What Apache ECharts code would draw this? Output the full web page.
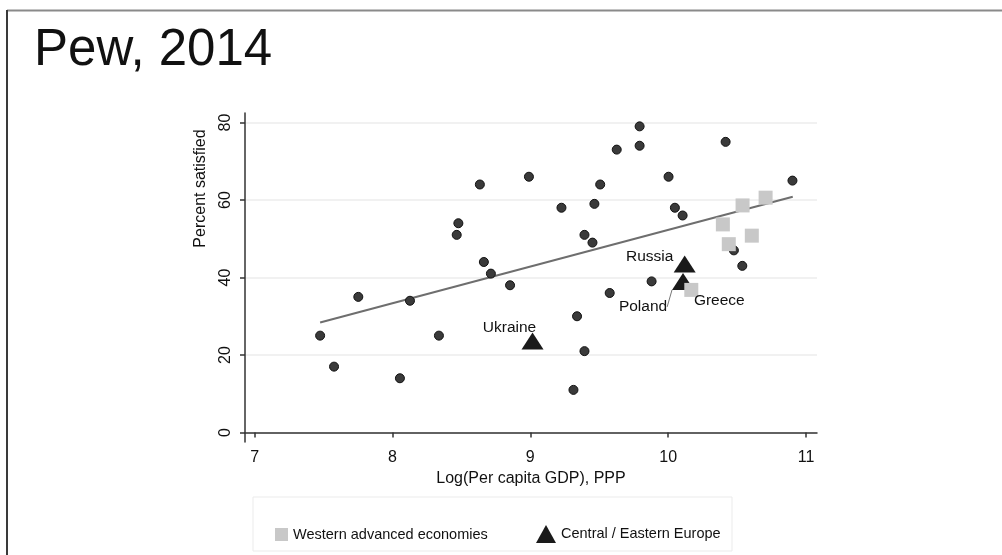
<!DOCTYPE html>
<html>
<head>
<meta charset="utf-8">
<script src="https://cdn.jsdelivr.net/npm/echarts@6/dist/echarts.min.js"></script>
<style>
  html, body { margin: 0; padding: 0; background: #fff; }
  #chart { width: 1002px; height: 555px; }
</style>
</head>
<body>
<div id="chart"></div>
<script>
// Axis ticks
const xTicks = [7, 8, 9, 10, 11];
const yTicks = [0, 20, 40, 60, 80];

// All other surveyed countries: log GDP per capita (PPP) vs percent satisfied
const otherX = [7.475, 7.576, 7.752, 8.127, 8.054, 8.337, 8.478, 8.466, 8.634, 8.663, 8.714,
                8.853, 8.99, 9.226, 9.313, 9.339, 9.393, 9.393, 9.451, 9.507, 9.465, 9.576,
                9.627, 9.793, 9.793, 9.88, 10.003, 10.049, 10.105, 10.417, 10.477, 10.538, 10.902];
const otherY = [25, 17, 35, 34, 14, 25, 54, 51, 64, 44, 41,
                38, 66, 58, 11, 30, 21, 51, 49, 64, 59, 36,
                73, 79, 74, 39, 66, 58, 56, 75, 47, 43, 65];

// Western advanced economies
const westNames = ['Greece', '', '', '', '', ''];
const westX = [10.168, 10.54, 10.707, 10.397, 10.607, 10.44];
const westY = [36.8, 58.6, 60.6, 53.7, 50.8, 48.6];

// Central / Eastern Europe
const ceeNames = ['Ukraine', 'Poland', 'Russia'];
const ceeX = [9.016, 10.108, 10.12];
const ceeY = [23.6, 39, 43.5];

// Linear fit endpoints
const fitX = [7.475, 10.904];
const fitY = [28.4, 60.85];

const FONT = "'Liberation Sans', Arial, Helvetica, sans-serif";

// Label displacement (px) for the annotated countries
const labelShift = {
  Russia: [-35, -7],
  Poland: [-40, 25.5],
  Greece: [28, 11],
  Ukraine: [-23, -13]
};

function points(xs, ys, names) {
  return xs.map((x, i) => {
    const item = { value: [x, ys[i]], name: names ? names[i] : '' };
    if (item.name === 'Poland') {
      item.labelLine = { show: true, lineStyle: { color: '#777', width: 1 } };
    }
    return item;
  });
}

function shiftLabel(params) {
  const s = labelShift[params.text];
  return s ? { dx: s[0], dy: s[1] } : {};
}

const namedLabel = {
  show: true,
  position: 'inside',
  formatter: p => p.name,
  color: '#111',
  fontSize: 15.5,
  fontFamily: FONT
};

const chart = echarts.init(document.getElementById('chart'), null, { renderer: 'canvas' });

chart.setOption({
  animation: false,
  backgroundColor: '#fff',
  title: {
    text: 'Pew, 2014',
    left: 34,
    top: 25,
    padding: 0,
    textStyle: { fontFamily: FONT, fontSize: 51, fontWeight: 'normal', color: '#111' }
  },
  graphic: [
    { type: 'line', shape: { x1: 7, y1: 10.5, x2: 1002, y2: 10.5 }, style: { stroke: '#8a8a8a', lineWidth: 2 } },
    { type: 'line', shape: { x1: 7, y1: 10, x2: 7, y2: 555 }, style: { stroke: '#3a3a3a', lineWidth: 2 } },
    { type: 'rect', shape: { x: 253, y: 497, width: 479, height: 54 }, style: { fill: 'none', stroke: '#ebebeb', lineWidth: 1 } }
  ],
  grid: { left: 245, right: 185, top: 113, bottom: 113 },
  xAxis: {
    type: 'value',
    min: 6.93,
    max: 11.08,
    name: 'Log(Per capita GDP), PPP',
    nameLocation: 'middle',
    nameGap: 27,
    nameTextStyle: { fontFamily: FONT, fontSize: 16, color: '#111' },
    axisLine: { lineStyle: { color: '#333', width: 1.5 } },
    axisTick: { show: true, customValues: xTicks, length: 5, lineStyle: { color: '#333', width: 1.5 } },
    axisLabel: { customValues: xTicks, fontFamily: FONT, fontSize: 16, color: '#111', margin: 8 },
    splitLine: { show: false }
  },
  yAxis: {
    type: 'value',
    min: -2.45,
    max: 82.45,
    name: 'Percent satisfied',
    nameLocation: 'middle',
    nameGap: 36,
    nameTextStyle: { fontFamily: FONT, fontSize: 16, color: '#111', padding: [0, 0, 0, 178] },
    axisLine: { show: true, lineStyle: { color: '#333', width: 1.5 } },
    axisTick: { show: true, customValues: yTicks, length: 5, lineStyle: { color: '#333', width: 1.5 } },
    axisLabel: { customValues: yTicks, rotate: 90, fontFamily: FONT, fontSize: 16, color: '#111', margin: 11 },
    splitLine: { show: true, lineStyle: { color: '#ececec', width: 1.5 } }
  },
  legend: [
    {
      data: ['Western advanced economies'],
      left: 270,
      top: 522,
      itemWidth: 13,
      itemHeight: 13,
      textStyle: { fontFamily: FONT, fontSize: 14.5, color: '#111' }
    },
    {
      data: ['Central / Eastern Europe'],
      left: 531,
      top: 520,
      itemWidth: 20,
      itemHeight: 18,
      textStyle: { fontFamily: FONT, fontSize: 14.5, color: '#111' }
    }
  ],
  series: [
    {
      name: 'Fit',
      type: 'line',
      data: fitX.map((x, i) => [x, fitY[i]]),
      symbol: 'none',
      lineStyle: { color: '#6e6e6e', width: 2 },
      silent: true,
      z: 1
    },
    {
      name: 'Other countries',
      type: 'scatter',
      data: points(otherX, otherY),
      symbol: 'circle',
      symbolSize: 9,
      itemStyle: { color: '#3a3a3a', borderColor: '#111', borderWidth: 1, opacity: 1 },
      z: 2
    },
    {
      name: 'Central / Eastern Europe',
      type: 'scatter',
      data: points(ceeX, ceeY, ceeNames),
      symbol: 'triangle',
      symbolSize: [22, 17],
      itemStyle: { color: '#1a1a1a', opacity: 1 },
      label: namedLabel,
      labelLayout: shiftLabel,
      z: 3
    },
    {
      name: 'Western advanced economies',
      type: 'scatter',
      data: points(westX, westY, westNames),
      symbol: 'rect',
      symbolSize: 14,
      itemStyle: { color: '#c8c8c8', opacity: 1 },
      label: namedLabel,
      labelLayout: shiftLabel,
      z: 4
    }
  ]
});
</script>
</body>
</html>
